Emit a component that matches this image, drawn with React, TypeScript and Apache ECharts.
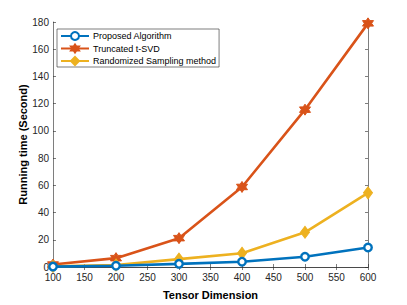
import React, { useEffect, useRef } from "react";
import * as echarts from "echarts";

const categories = [100, 200, 300, 400, 500, 600];
const proposed = [0.3, 0.9, 2.3, 3.9, 7.5, 14.3];
const truncated = [1.8, 6.5, 21.2, 58.8, 115.6, 179];
const randomized = [0.5, 1.5, 5.8, 10.1, 25.5, 54.5];
const seriesNames = ["Proposed Algorithm", "Truncated t-SVD", "Randomized Sampling method"];
const colors = ["#0072BD", "#D95319", "#EDB120"];

const hexagram =
  "path://M10,0L12.89,5L18.66,5L15.77,10L18.66,15L12.89,15L10,20L7.11,15L1.34,15L4.23,10L1.34,5L7.11,5Z";

const FONT = "Liberation Sans, Arial, Helvetica, sans-serif";
const AXIS_COLOR = "#262626";

export default function App() {
  const ref = useRef<HTMLDivElement>(null);
  useEffect(() => {
    if (!ref.current) return;
    const chart = echarts.init(ref.current, undefined, { renderer: "svg" });
    const pair = (vals: number[]) => categories.map((c, i) => [c, vals[i]]);
    const axisLine = { show: true, lineStyle: { color: AXIS_COLOR, width: 0.6 } };
    const axisTick = { show: true, inside: true, length: 3, lineStyle: { color: AXIS_COLOR, width: 0.6 } };
    chart.setOption({
      animation: false,
      backgroundColor: "#ffffff",
      grid: { left: 53, right: 39, top: 22, bottom: 34, containLabel: false },
      legend: {
        left: 57,
        top: 29,
        orient: "vertical",
        backgroundColor: "#ffffff",
        borderColor: AXIS_COLOR,
        borderWidth: 0.6,
        padding: [2, 3, 1, 3],
        itemGap: 2.5,
        itemWidth: 28,
        itemHeight: 10,
        textStyle: { fontFamily: FONT, fontSize: 9, color: "#000", padding: [0, 0, 0, -1] },
        data: seriesNames,
      },
      xAxis: [
        {
          type: "value",
          min: 100,
          max: 600,
          interval: 50,
          name: "Tensor Dimension",
          nameLocation: "middle",
          nameGap: 22,
          nameMoveOverlap: false,
          nameTextStyle: { fontFamily: FONT, fontSize: 11, fontWeight: "bold", color: "#000" },
          axisLine,
          axisTick,
          splitLine: { show: false },
          axisLabel: { fontFamily: FONT, fontSize: 10, color: AXIS_COLOR, margin: 5 },
        },
        {
          type: "value",
          position: "top",
          min: 100,
          max: 600,
          interval: 50,
          axisLine,
          axisTick,
          splitLine: { show: false },
          axisLabel: { show: false },
        },
      ],
      yAxis: [
        {
          type: "value",
          min: 0,
          max: 180,
          interval: 20,
          name: "Running time (Second)",
          nameLocation: "middle",
          nameGap: 25,
          nameMoveOverlap: false,
          nameTextStyle: { fontFamily: FONT, fontSize: 11, fontWeight: "bold", color: "#000" },
          axisLine,
          axisTick,
          splitLine: { show: false },
          axisLabel: { fontFamily: FONT, fontSize: 10, color: AXIS_COLOR, margin: 4 },
        },
        {
          type: "value",
          position: "right",
          min: 0,
          max: 180,
          interval: 20,
          axisLine,
          axisTick,
          splitLine: { show: false },
          axisLabel: { show: false },
        },
      ],
      series: [
        {
          name: seriesNames[0],
          type: "line",
          data: pair(proposed),
          color: colors[0],
          lineStyle: { width: 2.6, color: colors[0] },
          symbol: "circle",
          symbolSize: 7.5,
          itemStyle: { color: "#ffffff", borderColor: colors[0], borderWidth: 2.4 },
          z: 4,
        },
        {
          name: seriesNames[1],
          type: "line",
          data: pair(truncated),
          color: colors[1],
          lineStyle: { width: 2.6, color: colors[1] },
          symbol: hexagram,
          symbolSize: 11,
          itemStyle: { color: colors[1], borderColor: colors[1], borderWidth: 1 },
          z: 2,
        },
        {
          name: seriesNames[2],
          type: "line",
          data: pair(randomized),
          color: colors[2],
          lineStyle: { width: 2.6, color: colors[2] },
          symbol: "diamond",
          symbolSize: [9, 12],
          itemStyle: { color: colors[2], borderColor: colors[2], borderWidth: 1 },
          z: 3,
        },
      ],
    });
    return () => chart.dispose();
  }, []);
  return (
    <div
      ref={ref}
      style={{ position: "fixed", left: 0, top: 0, width: 407, height: 305, background: "#fff" }}
    />
  );
}
